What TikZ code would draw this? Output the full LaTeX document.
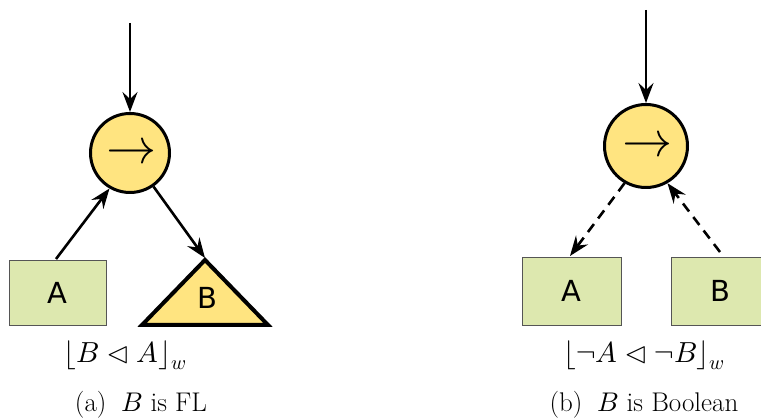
\documentclass[tikz,border=0pt]{standalone}
\usepackage{fontspec}
\usepackage{unicode-math}
\setmathfont{Latin Modern Math}
\newfontfamily\boxfont{DejaVu Sans}
\usetikzlibrary{arrows.meta}
\definecolor{nodeyellow}{HTML}{FFE480}
\definecolor{boxgreen}{HTML}{DDE8AF}
\definecolor{boxedge}{HTML}{555555}
\begin{document}
\begin{tikzpicture}[x=1pt,y=-1pt,
  opnode/.style={circle,draw=black,line width=3pt,fill=nodeyellow,inner sep=0pt},
  symb/.style={inner sep=0pt,font=\fontsize{50}{50}\selectfont},
  leafbox/.style={rectangle,draw=boxedge,line width=0.8pt,fill=boxgreen,inner sep=0pt,font=\boxfont\fontsize{29}{29}\selectfont},
  conn/.style={line width=2.6pt,-{Stealth[length=20pt,width=15pt,inset=7pt]}},
  dconn/.style={conn,dash pattern=on 10pt off 7pt},
  frm/.style={font=\fontsize{29}{32}\selectfont,inner sep=0pt},
  lbl/.style={font=\fontsize{27}{31}\selectfont,inner sep=0pt}]
\useasboundingbox (0,0) rectangle (761,419);
% ---- panel (a)
\node[opnode,minimum size=79pt] (oa) at (130,153) {};
\node[symb] (oaS) at (131,151) {$\rightarrow$};
\coordinate (topa) at (130,23);
\node[leafbox,minimum width=97pt,minimum height=65pt] (Aa) at (57.5,292.5) {A};
\draw[line width=4pt,line join=miter,fill=nodeyellow] (142,325) -- (205,260) -- (268,325) -- cycle;
\coordinate (Ba) at (205,258);
\node[font=\boxfont\fontsize{29}{29}\selectfont,inner sep=0pt] (BaL) at (207,298) {B};
\draw[conn] (topa) -- (oa.north);
\draw[conn] (56,259) -- (oa.240);
\draw[conn] (oa.-55) -- (Ba);
\node[frm] (fa) at (125,355) {$\lfloor B \vartriangleleft A\rfloor_w$};
\node[lbl] (ca) at (141,405) {(a)\hspace{0.55em}$B$ is FL};
% ---- panel (b)
\node[opnode,minimum size=83pt] (ob) at (646,146) {};
\node[symb] (obS) at (647,144) {$\rightarrow$};
\coordinate (topb) at (646,10);
\node[leafbox,minimum width=99pt,minimum height=68pt] (Ab) at (571.5,291) {A};
\node[leafbox,minimum width=99pt,minimum height=68pt] (Bb) at (720.5,291) {B};
\draw[conn] (topb) -- (ob.north);
\draw[dconn] (ob.-120) -- (570,256);
\draw[dconn] (720,252) -- (ob.-60);
\node[frm] (fb) at (644,355) {$\lfloor \neg A \vartriangleleft \neg B\rfloor_w$};
\node[lbl] (cb) at (644,405) {(b)\hspace{0.55em}$B$ is Boolean};
\end{tikzpicture}
\end{document}
